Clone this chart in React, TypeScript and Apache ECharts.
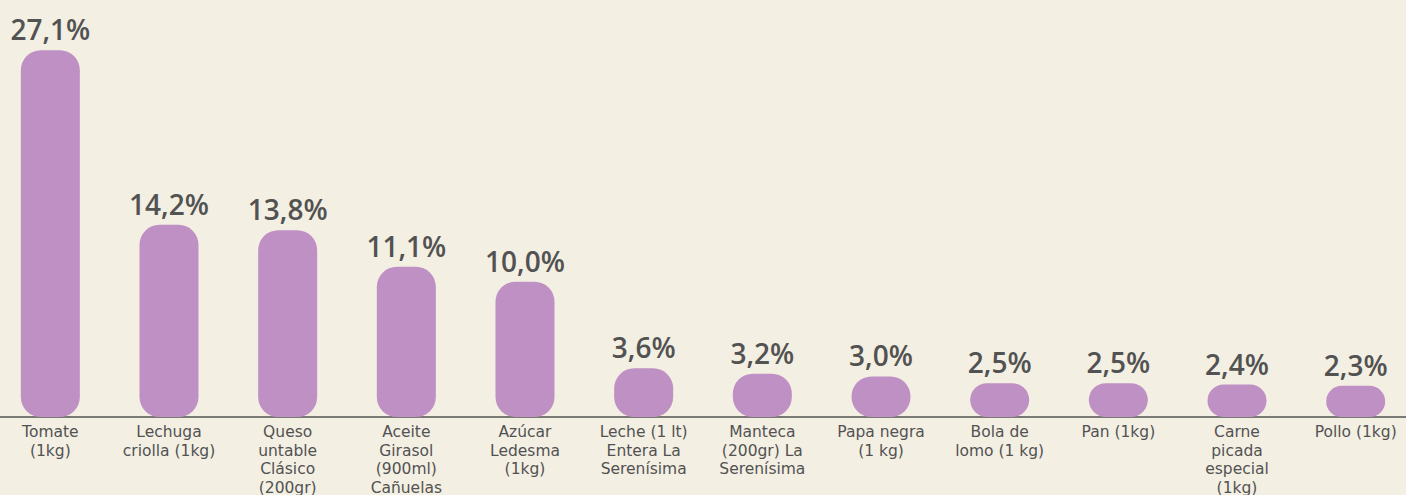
import React, { useEffect, useRef } from "react";
import * as echarts from "echarts";

const categories: string[] = [
  "Tomate\n(1kg)",
  "Lechuga\ncriolla (1kg)",
  "Queso\nuntable\nClásico\n(200gr)",
  "Aceite\nGirasol\n(900ml)\nCañuelas",
  "Azúcar\nLedesma\n(1kg)",
  "Leche (1 lt)\nEntera La\nSerenísima",
  "Manteca\n(200gr) La\nSerenísima",
  "Papa negra\n(1 kg)",
  "Bola de\nlomo (1 kg)",
  "Pan (1kg)",
  "Carne\npicada\nespecial\n(1kg)",
  "Pollo (1kg)",
];

const values: number[] = [27.1, 14.2, 13.8, 11.1, 10.0, 3.6, 3.2, 3.0, 2.5, 2.5, 2.4, 2.3];

export default function App() {
  const ref = useRef<HTMLDivElement>(null);
  useEffect(() => {
    if (!ref.current) return;
    const chart = echarts.init(ref.current, undefined, { renderer: "svg" });
    chart.setOption({
      animation: false,
      backgroundColor: "#F3EFE3",
      grid: {
        left: -9,
        right: -9,
        top: 11,
        bottom: 78,
        containLabel: false,
        outerBoundsMode: "none",
      },
      xAxis: {
        type: "category",
        data: categories,
        axisLine: { show: true, lineStyle: { color: "#7A7A74", width: 2 } },
        axisTick: { show: false },
        axisLabel: {
          interval: 0,
          margin: 6,
          color: "#525252",
          fontFamily: "DejaVu Sans",
          fontSize: 15.5,
          lineHeight: 18.5,
          align: "center",
          verticalAlign: "top",
        },
      },
      yAxis: {
        type: "value",
        min: 0,
        max: 30,
        show: false,
        splitLine: { show: false },
      },
      series: [
        {
          type: "bar",
          data: values,
          barWidth: 59,
          itemStyle: { color: "#BF90C4", borderRadius: 20 },
          label: {
            show: true,
            position: "top",
            distance: 7,
            color: "#525252",
            fontFamily: "Open Sans",
            fontWeight: 600,
            fontSize: 28,
            formatter: (p: any) => p.value.toFixed(1).replace(".", ",") + "%",
          },
        },
      ],
    });
    return () => chart.dispose();
  }, []);
  return (
    <div
      ref={ref}
      style={{ position: "absolute", left: 0, top: 0, width: 1406, height: 495 }}
    />
  );
}
